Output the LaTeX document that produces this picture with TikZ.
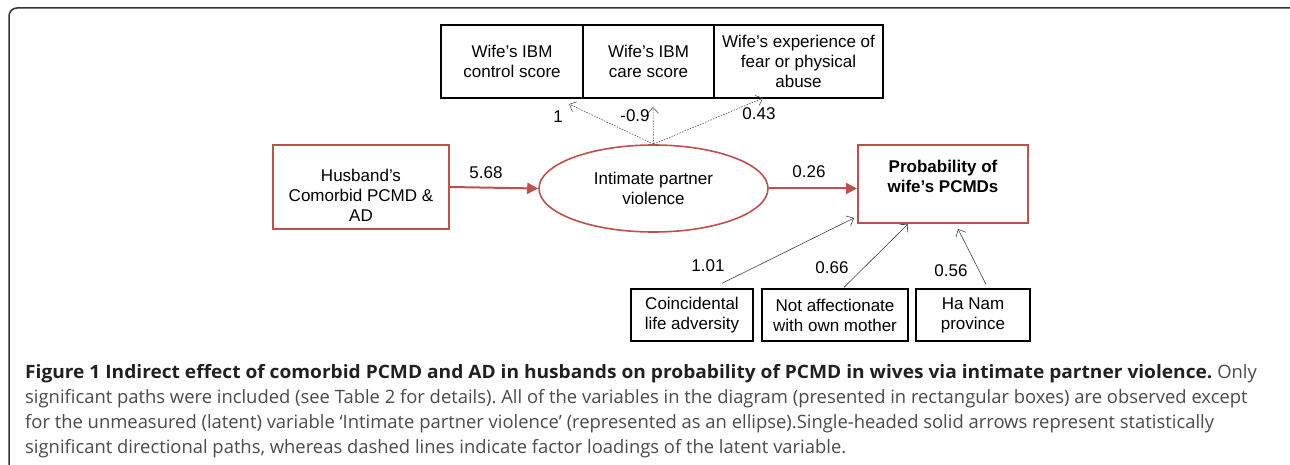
\documentclass[tikz,border=0pt]{standalone}
\usepackage{fontspec}
\setmainfont{Liberation Sans}
\newfontfamily\capfont{Open Sans}[BoldFeatures={FakeStretch=1.04}]
\usetikzlibrary{shapes.geometric,arrows.meta}
\definecolor{pathred}{HTML}{C0504D}
\definecolor{capgray}{HTML}{4A4A4A}
\definecolor{capdark}{HTML}{231F20}
\frenchspacing
\tikzset{
  obs/.style={draw, line width=1.3pt, align=center, inner sep=0pt,
    font=\fontsize{17}{20}\selectfont},
  redobs/.style={obs, draw=pathred, line width=2pt},
  latent/.style={ellipse, draw=pathred, line width=1.6pt, align=center,
    inner sep=0pt, font=\fontsize{17}{20}\selectfont},
  coef/.style={inner sep=0pt, font=\fontsize{17}{20}\selectfont},
  effect/.style={draw=pathred, line width=2pt, -{Triangle[length=11pt,width=11pt]}},
  direct/.style={draw=black!75, line width=0.6pt, -{Straight Barb[length=6pt,width=11pt]}},
  loading/.style={draw=black!65, line width=0.6pt, dash pattern=on 1.6pt off 1.2pt,
    -{Straight Barb[length=6pt,width=11pt]}},
  capline/.style={anchor=base west, inner sep=0pt, text=capgray,
    font=\capfont\fontsize{18.4}{25}\selectfont}
}
\begin{document}
\begin{tikzpicture}[x=1pt,y=-1pt]
  \useasboundingbox (0,0) rectangle (1290,465);
  \clip (0,0) rectangle (1290,465);

  % Figure frame
  \draw[line width=1.5pt, draw=black!80, rounded corners=8pt] (9,8) rectangle (1300,474);

  % Indicators of the latent variable
  \foreach \nm/\cx/\w/\txt in {ctl/512/142/{Wife’s IBM\\control score},
      care/648.5/131/{Wife’s IBM\\care score},
      fear/798.5/169/{Wife’s experience of\\fear or physical\\abuse}} {
    \node[obs, minimum width=\w, minimum height=73] (\nm) at (\cx,61.5) {\txt};
  }

  % Main path
  \node[redobs, minimum width=176, minimum height=84, text height=70pt, text depth=0pt]
    (hus) at (361,187) {Husband’s\\Comorbid PCMD \&\\AD};
  \node[latent, minimum width=229, minimum height=87] (ipv) at (653.5,188.5)
    {Intimate partner\\violence};
  \node[redobs, minimum width=170, minimum height=78, text height=18pt, text depth=0pt,
    font=\fontsize{17}{20}\selectfont\bfseries] (prob) at (943,184) {Probability of\\wife’s PCMDs};

  \draw[effect] (hus.east) -- (ipv.west);
  \draw[effect] (ipv.east) -- (ipv.east -| prob.west);
  \node[coef] (b1) at (486,173) {5.68};
  \node[coef] (b2) at (809,172) {0.26};

  % Factor loadings (dashed)
  \coordinate (ctlTip)  at (569,104);
  \coordinate (careTip) at (653,107);
  \coordinate (fearTip) at (763,98);
  \draw[loading] (ipv.north) -- (ctlTip);
  \draw[loading] (ipv.north) -- (careTip);
  \draw[loading] (ipv.north) -- (fearTip);
  \node[coef] (l1) at (558,117) {1};
  \node[coef] (l2) at (635,116) {-0.9};
  \node[coef] (l3) at (759,114) {0.43};

  % Other predictors of the wife's PCMDs
  \foreach \nm/\cx/\w/\txt in {adv/692/122/{Coincidental\\life adversity},
      moth/835/146/{Not affectionate\\with own mother},
      prov/973/114/{Ha Nam\\province}} {
    \node[obs, minimum width=\w, minimum height=52] (\nm) at (\cx,315) {\txt};
  }
  \draw[direct] ([xshift=30pt,yshift=5pt]adv.north) -- ([xshift=-3pt,yshift=6pt]prob.south west);
  \draw[direct] ([xshift=9pt,yshift=1pt]moth.north) -- ([xshift=-35pt]prob.south);
  \draw[direct] ([xshift=13pt,yshift=4pt]prov.north) -- ([xshift=15pt,yshift=-5pt]prob.south);
  \node[coef] (c1) at (708,266) {1.01};
  \node[coef] (c2) at (832,268) {0.66};
  \node[coef] (c3) at (951,271) {0.56};

  % Caption
  \node[capline] (cap1) at (25,378) {\textcolor{capdark}{\bfseries Figure 1 Indirect effect of comorbid PCMD and AD in husbands on probability of PCMD in wives via intimate partner violence.} Only};
  \node[capline] (cap2) at (25,403) {significant paths were included (see Table 2 for details). All of the variables in the diagram (presented in rectangular boxes) are observed except};
  \node[capline] (cap3) at (25,428) {for the unmeasured (latent) variable ‘Intimate partner violence’ (represented as an ellipse).Single-headed solid arrows represent statistically};
  \node[capline] (cap4) at (25,453) {significant directional paths, whereas dashed lines indicate factor loadings of the latent variable.};
\end{tikzpicture}
\end{document}
